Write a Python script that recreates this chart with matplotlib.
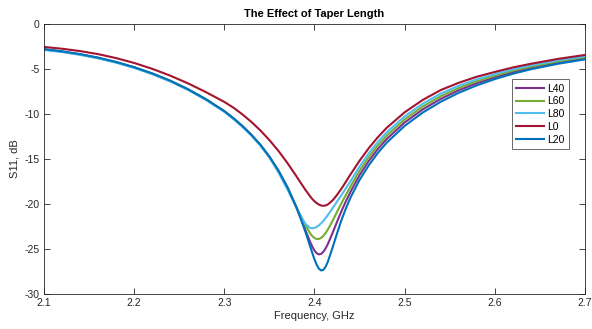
import matplotlib
matplotlib.use("Agg")
import matplotlib.pyplot as plt

# DATA, S11 in dB
FREQ = [2.10, 2.12, 2.14, 2.16, 2.18, 2.20, 2.22, 2.24, 2.26, 2.28, 2.30,
        2.31, 2.32, 2.33, 2.34, 2.35, 2.36, 2.37, 2.38,
        2.385, 2.39, 2.395, 2.3975, 2.40, 2.4025, 2.405, 2.4075, 2.41, 2.4125,
        2.415, 2.42, 2.425, 2.43, 2.435, 2.44,
        2.45, 2.46, 2.47, 2.48, 2.50, 2.52, 2.54, 2.56, 2.58, 2.60, 2.62, 2.64,
        2.67, 2.70]

L0 = [-2.55, -2.75, -3.01, -3.35, -3.79, -4.33, -4.98, -5.74, -6.61, -7.59, -8.66,
      -9.29, -10.04, -10.88, -11.83, -12.90, -14.10, -15.45, -16.93,
      -17.69, -18.44, -19.13, -19.44, -19.70, -19.91, -20.07, -20.17, -20.20, -20.16,
      -20.04, -19.61, -18.99, -18.28, -17.50, -16.70,
      -15.19, -13.82, -12.61, -11.54, -9.81, -8.44, -7.34, -6.53, -5.86, -5.33, -4.83,
      -4.42, -3.88, -3.44]

L20 = [-2.80, -3.04, -3.35, -3.74, -4.22, -4.80, -5.49, -6.30, -7.26, -8.38, -9.68,
       -10.46, -11.33, -12.31, -13.42, -14.74, -16.29, -18.14, -20.39,
       -21.70, -23.12, -24.66, -25.43, -26.15, -26.77, -27.20, -27.39, -27.30, -26.94,
       -26.36, -24.86, -23.26, -21.76, -20.45, -19.27,
       -17.32, -15.73, -14.36, -13.19, -11.32, -9.84, -8.64, -7.64, -6.82, -6.12, -5.53,
       -5.03, -4.42, -3.93]

L80 = [-2.88, -3.12, -3.43, -3.82, -4.30, -4.88, -5.57, -6.38, -7.34, -8.46, -9.76,
       -10.54, -11.41, -12.39, -13.50, -14.82, -16.49, -18.38, -20.43,
       -21.42, -22.22, -22.66, -22.70, -22.65, -22.54, -22.36, -22.13, -21.86, -21.54,
       -21.20, -20.48, -19.73, -19.00, -18.22, -17.47,
       -15.83, -14.39, -13.14, -12.04, -10.26, -8.86, -7.73, -6.86, -6.15, -5.57, -5.04,
       -4.60, -4.04, -3.59]

L60 = [-2.84, -3.08, -3.39, -3.78, -4.26, -4.84, -5.53, -6.34, -7.30, -8.42, -9.72,
       -10.50, -11.37, -12.35, -13.46, -14.78, -16.33, -18.20, -20.35,
       -21.37, -22.38, -23.23, -23.56, -23.78, -23.89, -23.88, -23.76, -23.52, -23.20,
       -22.81, -21.88, -20.88, -19.89, -18.95, -18.04,
       -16.30, -14.81, -13.52, -12.40, -10.60, -9.17, -8.02, -7.11, -6.36, -5.74, -5.19,
       -4.74, -4.16, -3.69]

L40 = [-2.82, -3.06, -3.37, -3.76, -4.24, -4.82, -5.51, -6.32, -7.28, -8.40, -9.70,
       -10.48, -11.35, -12.33, -13.44, -14.76, -16.31, -18.16, -20.39,
       -21.61, -22.92, -24.18, -24.73, -25.18, -25.48, -25.60, -25.53, -25.29, -24.90,
       -24.41, -23.23, -21.98, -20.77, -19.66, -18.63,
       -16.79, -15.25, -13.92, -12.78, -10.94, -9.49, -8.32, -7.36, -6.58, -5.92, -5.36,
       -4.88, -4.29, -3.81]

# legend order = drawing order (L20 ends up on top)
SERIES = [
    ("L40", L40, "#7E2F8E"),
    ("L60", L60, "#77AC30"),
    ("L80", L80, "#4DBEEE"),
    ("L0",  L0,  "#A2142F"),
    ("L20", L20, "#0072BD"),
]

X_TICKS = [2.1, 2.2, 2.3, 2.4, 2.5, 2.6, 2.7]
Y_TICKS = [-30, -25, -20, -15, -10, -5, 0]

AX_COLOR = "#262626"

plt.rcParams["font.family"] = ["Liberation Sans", "DejaVu Sans"]

fig = plt.figure(figsize=(5.92, 3.29), dpi=100)
ax = fig.add_axes([0.0743, 0.1064, 0.9139, 0.8207])

for name, vals, color in SERIES:
    ax.plot(FREQ, vals, color=color, linewidth=1.5, label=name,
            solid_joinstyle="round")

ax.set_xlim(2.1, 2.7)
ax.set_ylim(-30, 0)
ax.set_xticks(X_TICKS)
ax.set_xticklabels([f"{t:.1f}" for t in X_TICKS])
ax.set_yticks(Y_TICKS)
ax.set_yticklabels([str(t) for t in Y_TICKS])

ax.tick_params(direction="in", length=4, width=0.6, colors=AX_COLOR,
               labelsize=7.5, top=True, right=True, pad=3)
for sp in ax.spines.values():
    sp.set_color(AX_COLOR)
    sp.set_linewidth(0.6)

ax.set_title("The Effect of Taper Length", fontsize=8, fontweight="bold",
             color="black", pad=5)
ax.set_xlabel("Frequency, GHz", fontsize=8, color=AX_COLOR, labelpad=2)
ax.set_ylabel("S11, dB", fontsize=8, color=AX_COLOR, labelpad=4)

leg = ax.legend(loc="upper right", bbox_to_anchor=(0.970, 0.795), fontsize=7.5,
                frameon=True, fancybox=False, handlelength=2.7,
                handletextpad=0.3, borderpad=0.4, labelspacing=0.27,
                borderaxespad=0)
leg.get_frame().set_edgecolor(AX_COLOR)
leg.get_frame().set_linewidth(0.6)

fig.savefig("out.png", dpi=100)
plt.close(fig)
